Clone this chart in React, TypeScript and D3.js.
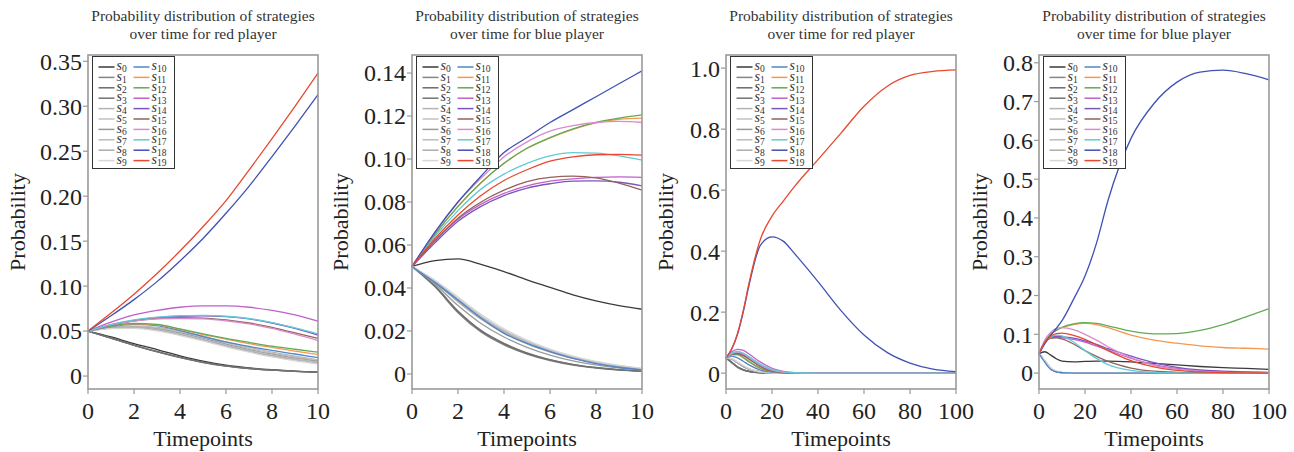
import React from "react";
import * as d3 from "d3";

// ---------- data ----------
const T10 = [0, 1, 2, 3, 4, 5, 6, 7, 8, 9, 10];
const T100 = [0, 2.5, 5, 7.5, 10, 15, 20, 25, 30, 40, 50, 60, 70, 80, 90, 100];

const seriesNames = Array.from({ length: 20 }, (_, i) => String(i));
const seriesColors = [
  "#3a3a3a", "#858585", "#6a6a6a", "#727272", "#b3b3b3",
  "#c2c2c2", "#9a9a9a", "#bcbcbc", "#ababab", "#d6d6d6",
  "#4f86cc", "#f5984f", "#62ab55", "#c25fc9", "#7a55c0",
  "#93625a", "#d98ccc", "#62cad6", "#3f51b5", "#e9472f",
];

const redShort = [
  [0.05, 0.0435, 0.036, 0.0295, 0.0225, 0.0165, 0.012, 0.009, 0.007, 0.0055, 0.0045],
  [0.05, 0.042, 0.034, 0.027, 0.0205, 0.015, 0.011, 0.0083, 0.0065, 0.0052, 0.0043],
  [0.05, 0.0425, 0.0345, 0.0275, 0.021, 0.0155, 0.0113, 0.0085, 0.0066, 0.0053, 0.0044],
  [0.05, 0.0422, 0.0342, 0.0272, 0.0207, 0.0152, 0.0111, 0.0084, 0.0065, 0.0052, 0.0043],
  [0.05, 0.054, 0.0555, 0.054, 0.05, 0.0445, 0.038, 0.032, 0.0265, 0.022, 0.018],
  [0.05, 0.0538, 0.055, 0.0532, 0.049, 0.0432, 0.0368, 0.0308, 0.0255, 0.0212, 0.0175],
  [0.05, 0.0535, 0.0545, 0.0525, 0.048, 0.042, 0.0355, 0.0295, 0.0243, 0.02, 0.0165],
  [0.05, 0.0532, 0.054, 0.0518, 0.047, 0.041, 0.0345, 0.0285, 0.0233, 0.019, 0.0155],
  [0.05, 0.053, 0.0535, 0.051, 0.046, 0.04, 0.0335, 0.0275, 0.0223, 0.018, 0.0145],
  [0.05, 0.0528, 0.053, 0.0502, 0.045, 0.039, 0.0325, 0.0265, 0.0213, 0.017, 0.0135],
  [0.05, 0.055, 0.0575, 0.056, 0.0505, 0.044, 0.038, 0.033, 0.0285, 0.0245, 0.0205],
  [0.05, 0.0555, 0.058, 0.057, 0.052, 0.046, 0.041, 0.036, 0.0318, 0.0278, 0.024],
  [0.05, 0.0555, 0.0585, 0.0575, 0.0525, 0.047, 0.042, 0.0375, 0.0332, 0.0298, 0.0265],
  [0.05, 0.06, 0.068, 0.073, 0.0765, 0.078, 0.078, 0.0765, 0.073, 0.068, 0.061],
  [0.05, 0.057, 0.062, 0.065, 0.0665, 0.067, 0.066, 0.0635, 0.059, 0.053, 0.0455],
  [0.05, 0.057, 0.0615, 0.064, 0.065, 0.0645, 0.0625, 0.059, 0.054, 0.048, 0.042],
  [0.05, 0.057, 0.061, 0.0635, 0.064, 0.0635, 0.0615, 0.058, 0.053, 0.0465, 0.0395],
  [0.05, 0.0575, 0.0625, 0.0655, 0.067, 0.0675, 0.0665, 0.064, 0.0595, 0.0535, 0.047],
  [0.05, 0.067, 0.085, 0.105, 0.128, 0.153, 0.181, 0.211, 0.244, 0.278, 0.313],
  [0.05, 0.07, 0.091, 0.114, 0.139, 0.166, 0.195, 0.229, 0.264, 0.3, 0.337],
];

const blueShort = [
  [0.05, 0.0527, 0.0535, 0.051, 0.0476, 0.0438, 0.0403, 0.0368, 0.034, 0.0318, 0.0301],
  [0.05, 0.0405, 0.0285, 0.0195, 0.0135, 0.0092, 0.0062, 0.0041, 0.0027, 0.0018, 0.0012],
  [0.05, 0.0408, 0.029, 0.02, 0.014, 0.0096, 0.0065, 0.0043, 0.0029, 0.0019, 0.0013],
  [0.05, 0.041, 0.0293, 0.0203, 0.0143, 0.0098, 0.0067, 0.0045, 0.003, 0.002, 0.0013],
  [0.05, 0.0425, 0.0335, 0.0255, 0.019, 0.014, 0.0102, 0.0072, 0.005, 0.0034, 0.0023],
  [0.05, 0.043, 0.0345, 0.0265, 0.0198, 0.0147, 0.0107, 0.0076, 0.0053, 0.0036, 0.0024],
  [0.05, 0.0418, 0.0318, 0.0235, 0.0172, 0.0124, 0.0088, 0.0061, 0.0042, 0.0028, 0.0019],
  [0.05, 0.0433, 0.035, 0.027, 0.0203, 0.0152, 0.0111, 0.0079, 0.0055, 0.0038, 0.0025],
  [0.05, 0.0428, 0.034, 0.026, 0.0195, 0.0144, 0.0104, 0.0074, 0.0052, 0.0035, 0.0024],
  [0.05, 0.0436, 0.0358, 0.0278, 0.021, 0.0158, 0.0116, 0.0083, 0.0058, 0.004, 0.0026],
  [0.05, 0.0425, 0.0344, 0.026, 0.0189, 0.0142, 0.0104, 0.0072, 0.0048, 0.003, 0.0019],
  [0.05, 0.065, 0.078, 0.089, 0.098, 0.105, 0.1098, 0.1138, 0.1168, 0.1185, 0.119],
  [0.05, 0.065, 0.078, 0.089, 0.098, 0.105, 0.11, 0.114, 0.117, 0.119, 0.1205],
  [0.05, 0.062, 0.072, 0.079, 0.084, 0.0875, 0.0897, 0.0908, 0.0915, 0.0917, 0.0915],
  [0.05, 0.061, 0.071, 0.078, 0.083, 0.0865, 0.0885, 0.0897, 0.0898, 0.0892, 0.0875],
  [0.05, 0.062, 0.0725, 0.08, 0.0855, 0.0895, 0.0915, 0.092, 0.0912, 0.0888, 0.0855],
  [0.05, 0.066, 0.08, 0.091, 0.101, 0.108, 0.113, 0.1155, 0.117, 0.1175, 0.117],
  [0.05, 0.064, 0.076, 0.086, 0.093, 0.098, 0.1015, 0.103, 0.1027, 0.1015, 0.0995],
  [0.05, 0.066, 0.08, 0.092, 0.103, 0.11, 0.117, 0.123, 0.129, 0.135, 0.141],
  [0.05, 0.063, 0.074, 0.083, 0.09, 0.095, 0.099, 0.101, 0.102, 0.1022, 0.1018],
];

const redLong = [
  [0.05, 0.035, 0.02, 0.011, 0.006, 0.0015, 0.0004, 0, 0, 0, 0, 0, 0, 0, 0, 0],
  [0.05, 0.034, 0.019, 0.01, 0.005, 0.0012, 0.0003, 0, 0, 0, 0, 0, 0, 0, 0, 0],
  [0.05, 0.036, 0.021, 0.012, 0.006, 0.0015, 0.0004, 0, 0, 0, 0, 0, 0, 0, 0, 0],
  [0.05, 0.035, 0.02, 0.011, 0.0055, 0.0013, 0.0003, 0, 0, 0, 0, 0, 0, 0, 0, 0],
  [0.05, 0.046, 0.034, 0.022, 0.013, 0.004, 0.001, 0.0003, 0, 0, 0, 0, 0, 0, 0, 0],
  [0.05, 0.047, 0.036, 0.024, 0.014, 0.0045, 0.0012, 0.0003, 0, 0, 0, 0, 0, 0, 0, 0],
  [0.05, 0.045, 0.033, 0.021, 0.012, 0.0035, 0.001, 0.0002, 0, 0, 0, 0, 0, 0, 0, 0],
  [0.05, 0.047, 0.035, 0.023, 0.014, 0.0042, 0.0011, 0.0003, 0, 0, 0, 0, 0, 0, 0, 0],
  [0.05, 0.046, 0.034, 0.022, 0.013, 0.004, 0.001, 0.0003, 0, 0, 0, 0, 0, 0, 0, 0],
  [0.05, 0.048, 0.037, 0.025, 0.015, 0.005, 0.0013, 0.0003, 0, 0, 0, 0, 0, 0, 0, 0],
  [0.05, 0.056, 0.05, 0.039, 0.027, 0.01, 0.003, 0.001, 0.0003, 0, 0, 0, 0, 0, 0, 0],
  [0.05, 0.06, 0.06, 0.05, 0.037, 0.015, 0.005, 0.0015, 0.0004, 0, 0, 0, 0, 0, 0, 0],
  [0.05, 0.062, 0.062, 0.052, 0.038, 0.016, 0.005, 0.0015, 0.0004, 0, 0, 0, 0, 0, 0, 0],
  [0.05, 0.07, 0.078, 0.075, 0.063, 0.036, 0.016, 0.006, 0.002, 0.0002, 0, 0, 0, 0, 0, 0],
  [0.05, 0.063, 0.066, 0.06, 0.048, 0.023, 0.008, 0.0025, 0.0008, 0, 0, 0, 0, 0, 0, 0],
  [0.05, 0.062, 0.064, 0.058, 0.046, 0.021, 0.007, 0.002, 0.0006, 0, 0, 0, 0, 0, 0, 0],
  [0.05, 0.064, 0.068, 0.063, 0.051, 0.026, 0.01, 0.003, 0.001, 0, 0, 0, 0, 0, 0, 0],
  [0.05, 0.066, 0.071, 0.066, 0.054, 0.029, 0.012, 0.004, 0.0012, 0.0001, 0, 0, 0, 0, 0, 0],
  [0.05, 0.079, 0.127, 0.2, 0.288, 0.42, 0.447, 0.432, 0.39, 0.3, 0.205, 0.125, 0.068, 0.033, 0.013, 0.005],
  [0.05, 0.08, 0.13, 0.205, 0.295, 0.44, 0.515, 0.565, 0.614, 0.7, 0.787, 0.875, 0.94, 0.976, 0.989, 0.994],
];

const blueLong = [
  [0.05, 0.055, 0.047, 0.037, 0.031, 0.029, 0.03, 0.031, 0.031, 0.029, 0.025, 0.021, 0.017, 0.014, 0.012, 0.0095],
  [0.05, 0.03, 0.011, 0.004, 0.0012, 0.0002, 0, 0, 0, 0, 0, 0, 0, 0, 0, 0],
  [0.05, 0.031, 0.012, 0.004, 0.0012, 0.0002, 0, 0, 0, 0, 0, 0, 0, 0, 0, 0],
  [0.05, 0.03, 0.011, 0.0035, 0.001, 0.0002, 0, 0, 0, 0, 0, 0, 0, 0, 0, 0],
  [0.05, 0.032, 0.013, 0.0045, 0.0014, 0.0002, 0, 0, 0, 0, 0, 0, 0, 0, 0, 0],
  [0.05, 0.032, 0.013, 0.0045, 0.0014, 0.0002, 0, 0, 0, 0, 0, 0, 0, 0, 0, 0],
  [0.05, 0.031, 0.012, 0.004, 0.0012, 0.0002, 0, 0, 0, 0, 0, 0, 0, 0, 0, 0],
  [0.05, 0.032, 0.013, 0.0045, 0.0014, 0.0002, 0, 0, 0, 0, 0, 0, 0, 0, 0, 0],
  [0.05, 0.032, 0.013, 0.0045, 0.0014, 0.0002, 0, 0, 0, 0, 0, 0, 0, 0, 0, 0],
  [0.05, 0.033, 0.014, 0.005, 0.0015, 0.0002, 0, 0, 0, 0, 0, 0, 0, 0, 0, 0],
  [0.05, 0.028, 0.01, 0.003, 0.001, 0, 0, 0, 0, 0, 0, 0, 0, 0, 0, 0],
  [0.05, 0.08, 0.1, 0.11, 0.117, 0.125, 0.128, 0.125, 0.117, 0.098, 0.085, 0.077, 0.07, 0.066, 0.064, 0.062],
  [0.05, 0.08, 0.1, 0.11, 0.118, 0.127, 0.13, 0.128, 0.122, 0.108, 0.101, 0.102, 0.11, 0.125, 0.145, 0.166],
  [0.05, 0.078, 0.09, 0.092, 0.091, 0.087, 0.08, 0.07, 0.059, 0.038, 0.022, 0.012, 0.006, 0.003, 0.0015, 0.001],
  [0.05, 0.08, 0.092, 0.095, 0.094, 0.09, 0.083, 0.074, 0.063, 0.044, 0.027, 0.015, 0.008, 0.005, 0.003, 0.002],
  [0.05, 0.08, 0.09, 0.091, 0.088, 0.075, 0.058, 0.043, 0.03, 0.013, 0.005, 0.002, 0.001, 0, 0, 0],
  [0.05, 0.085, 0.105, 0.115, 0.117, 0.112, 0.1, 0.085, 0.068, 0.04, 0.02, 0.01, 0.005, 0.002, 0.001, 0],
  [0.05, 0.08, 0.093, 0.098, 0.096, 0.08, 0.058, 0.038, 0.022, 0.007, 0.002, 0.0005, 0, 0, 0, 0],
  [0.05, 0.075, 0.097, 0.115, 0.135, 0.19, 0.25, 0.335, 0.445, 0.605, 0.695, 0.75, 0.776, 0.781, 0.772, 0.756],
  [0.05, 0.08, 0.095, 0.102, 0.103, 0.097, 0.087, 0.073, 0.058, 0.032, 0.016, 0.007, 0.003, 0.001, 0.0005, 0],
];

const xTicks10 = [0, 2, 4, 6, 8, 10];
const xTicks100 = [0, 20, 40, 60, 80, 100];
const yTicksP1 = [0, 0.05, 0.1, 0.15, 0.2, 0.25, 0.3, 0.35];
const yTicksP2 = [0, 0.02, 0.04, 0.06, 0.08, 0.1, 0.12, 0.14];
const yTicksP3 = [0, 0.2, 0.4, 0.6, 0.8, 1.0];
const yTicksP4 = [0, 0.1, 0.2, 0.3, 0.4, 0.5, 0.6, 0.7, 0.8];

const titleLine1 = "Probability distribution of strategies";
const titleLine2 = ["over time for red player", "over time for blue player", "over time for red player", "over time for blue player"];
const xLabel = "Timepoints";
const yLabel = "Probability";

// ---------- layout ----------
const W = 1294;
const H = 452;
const TOP = 55;
const BOTTOM = 389;
const FONT = '"Liberation Serif", "DejaVu Serif", serif';

const panels = [
  { left: 88, right: 318, t: T10, xMax: 10, xTicks: xTicks10, yDom: [-0.0144, 0.357], yTicks: yTicksP1, dec: 2, data: redShort, ylx: 25, title: titleLine2[0] },
  { left: 412, right: 642, t: T10, xMax: 10, xTicks: xTicks10, yDom: [-0.007, 0.1484], yTicks: yTicksP2, dec: 2, data: blueShort, ylx: 348, title: titleLine2[1] },
  { left: 726, right: 956, t: T100, xMax: 100, xTicks: xTicks100, yDom: [-0.052, 1.043], yTicks: yTicksP3, dec: 1, data: redLong, ylx: 673, title: titleLine2[2] },
  { left: 1039, right: 1269, t: T100, xMax: 100, xTicks: xTicks100, yDom: [-0.041, 0.82], yTicks: yTicksP4, dec: 1, data: blueLong, ylx: 987, title: titleLine2[3] },
];

function Panel({ p }: { p: any }) {
  const x = d3.scaleLinear().domain([0, p.xMax]).range([p.left, p.right]);
  const y = d3.scaleLinear().domain(p.yDom).range([BOTTOM, TOP]);
  const line = d3
    .line<[number, number]>()
    .x((d) => x(d[0]))
    .y((d) => y(d[1]))
    .curve(d3.curveMonotoneX);
  const cx = (p.left + p.right) / 2;
  const axisColor = "#9a9a9a";
  const legX = p.left + 4.5;
  const legY = 56.5;
  return (
    <g>
      <text x={cx} y={21} textAnchor="middle" fontSize={15.5} fill="#333">
        {titleLine1}
      </text>
      <text x={cx} y={39} textAnchor="middle" fontSize={15.5} fill="#333">
        {p.title}
      </text>
      {p.data.map((vals: number[], i: number) => (
        <path
          key={i}
          d={line(p.t.map((t: number, k: number) => [t, vals[k]]) as [number, number][]) || ""}
          fill="none"
          stroke={seriesColors[i]}
          strokeWidth={1.3}
        />
      ))}
      <rect x={p.left} y={TOP} width={p.right - p.left} height={BOTTOM - TOP} fill="none" stroke={axisColor} strokeWidth={1.6} />
      {p.yTicks.map((v: number) => (
        <g key={"y" + v}>
          <line x1={p.left - 5} x2={p.left} y1={y(v)} y2={y(v)} stroke={axisColor} strokeWidth={1.2} />
          <text x={p.left - 6} y={y(v)} dy="0.35em" textAnchor="end" fontSize={24} fill="#222">
            {v === 0 ? "0" : v.toFixed(p.dec)}
          </text>
        </g>
      ))}
      {p.xTicks.map((v: number) => (
        <g key={"x" + v}>
          <line x1={x(v)} x2={x(v)} y1={BOTTOM} y2={BOTTOM + 5} stroke={axisColor} strokeWidth={1.2} />
          <text x={x(v)} y={419} textAnchor="middle" fontSize={24} fill="#222">
            {String(v)}
          </text>
        </g>
      ))}
      <text x={cx} y={446} textAnchor="middle" fontSize={22} fill="#222">
        {xLabel}
      </text>
      <text transform={`translate(${p.ylx},${(TOP + BOTTOM) / 2}) rotate(-90)`} textAnchor="middle" fontSize={22} fill="#222">
        {yLabel}
      </text>
      <rect x={legX} y={legY} width={82} height={112} fill="#fff" stroke="#333" strokeWidth={1} />
      {seriesNames.map((name, i) => {
        const col = i < 10 ? 0 : 1;
        const row = i % 10;
        const ly = legY + 10.5 + row * 10.4;
        const lx = legX + (col === 0 ? 6 : 41);
        return (
          <g key={"l" + i}>
            <line x1={lx} x2={lx + 16} y1={ly} y2={ly} stroke={seriesColors[i]} strokeWidth={1.5} />
            <text x={lx + 18} y={ly + 3.2} fontSize={14} fill="#333">
              <tspan fontStyle="italic">s</tspan>
              <tspan fontSize={9.5} dy={2.2}>{name}</tspan>
            </text>
          </g>
        );
      })}
    </g>
  );
}

export default function App() {
  return (
    <svg
      width={W}
      height={H}
      style={{ position: "absolute", left: 0, top: 0, background: "#fff", fontFamily: FONT }}
    >
      <rect x={0} y={0} width={W} height={H} fill="#fff" />
      {panels.map((p, i) => (
        <Panel key={i} p={p} />
      ))}
    </svg>
  );
}
